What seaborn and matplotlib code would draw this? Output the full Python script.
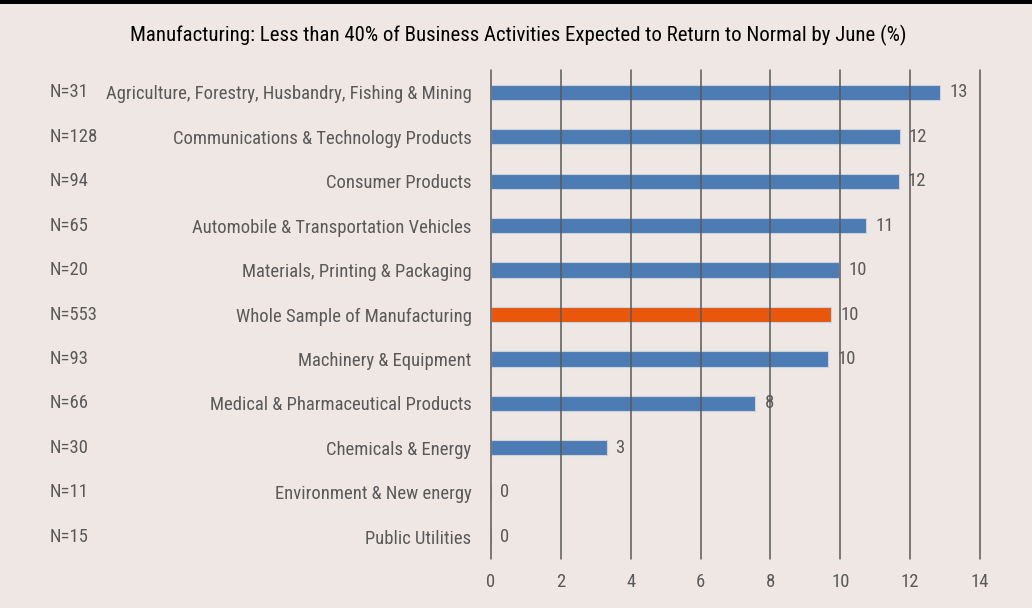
#!/usr/bin/env python
'''
Horizontal bar chart: share of manufacturing business activities expected back to normal by June.
'''

import matplotlib
matplotlib.use('Agg')
import matplotlib.pyplot as plt
import matplotlib.transforms as mtransforms
from matplotlib import font_manager
from matplotlib.patches import Rectangle
import seaborn as sns

# data
categories = [
    'Agriculture, Forestry, Husbandry, Fishing & Mining',
    'Communications & Technology Products',
    'Consumer Products',
    'Automobile & Transportation Vehicles',
    'Materials, Printing & Packaging',
    'Whole Sample of Manufacturing',
    'Machinery & Equipment',
    'Medical & Pharmaceutical Products',
    'Chemicals & Energy',
    'Environment & New energy',
    'Public Utilities',
]
sample_sizes = ['N=31', 'N=128', 'N=94', 'N=65', 'N=20', 'N=553', 'N=93', 'N=66', 'N=30', 'N=11', 'N=15']
values = [12.86, 11.7, 11.68, 10.74, 9.97, 9.74, 9.66, 7.57, 3.31, 0, 0]
highlight = 'Whole Sample of Manufacturing'
x_ticks = [0, 2, 4, 6, 8, 10, 12, 14]

BG = '#efe7e4'
BLUE = '#4d7bb3'
ORANGE = '#e8570c'
GREY = '#595959'

sns.set_style('white')

# pick a narrow face if one is around, otherwise condensed DejaVu
installed = {f.name for f in font_manager.fontManager.ttflist}
family = 'DejaVu Sans'
for cand in ['Roboto Condensed', 'Liberation Sans Narrow', 'Open Sans Condensed']:
    if cand in installed:
        family = cand
        break
plt.rcParams['font.family'] = [family, 'DejaVu Sans']
plt.rcParams['font.stretch'] = 'condensed'
fs = 13.4 if family != 'DejaVu Sans' else 11

fig = plt.figure(figsize=(10.32, 6.08), dpi=100, facecolor=BG)
ax = fig.add_axes([491 / 1032, 1 - 559 / 608, 489 / 1032, 489 / 608])
ax.set_facecolor(BG)

palette = {c: (ORANGE if c == highlight else BLUE) for c in categories}
sns.barplot(x=values, y=categories, hue=categories, palette=palette, legend=False,
            orient='h', width=0.34, edgecolor='#c9d3e0', linewidth=0.8, saturation=1, ax=ax)

ax.set_xlim(0, 14)
ax.set_ylim(len(categories) - 0.5, -0.5)
ax.set_xticks(x_ticks)
ax.set_xticklabels([str(t) for t in x_ticks])
ax.tick_params(axis='both', length=0, colors=GREY, labelsize=fs)
ax.tick_params(axis='x', pad=10)
ax.tick_params(axis='y', pad=14)
ax.set_xlabel('')
ax.set_ylabel('')
ax.grid(axis='x', color=GREY, linewidth=1.1)
for gl in ax.get_xgridlines():
    gl.set_clip_on(False)
ax.set_axisbelow(False)
for sp in ax.spines.values():
    sp.set_visible(False)

# value labels just past the end of each bar
offset = mtransforms.offset_copy(ax.transData, fig=fig, x=9, y=0, units='dots')
for i, v in enumerate(values):
    ax.text(v, i, f'{v:.0f}', transform=offset, ha='left', va='center',
            fontsize=fs, color=GREY)

# sample size column on the far left
trans = mtransforms.blended_transform_factory(fig.transFigure, ax.transData)
for i, n in enumerate(sample_sizes):
    ax.text(50 / 1032, i, n, transform=trans, ha='left', va='center',
            fontsize=fs, color=GREY)

fig.suptitle('Manufacturing: Less than 40% of Business Activities Expected to Return to Normal by June (%)',
             x=518 / 1032, y=1 - 35 / 608, va='center', fontsize=fs + 1.6, color='black')

# black band along the top edge
fig.add_artist(Rectangle((0, 1 - 4 / 608), 1, 4 / 608, transform=fig.transFigure,
                         facecolor='black', edgecolor='none'))

plt.savefig('out.png', dpi=100, facecolor=BG)
plt.close()
